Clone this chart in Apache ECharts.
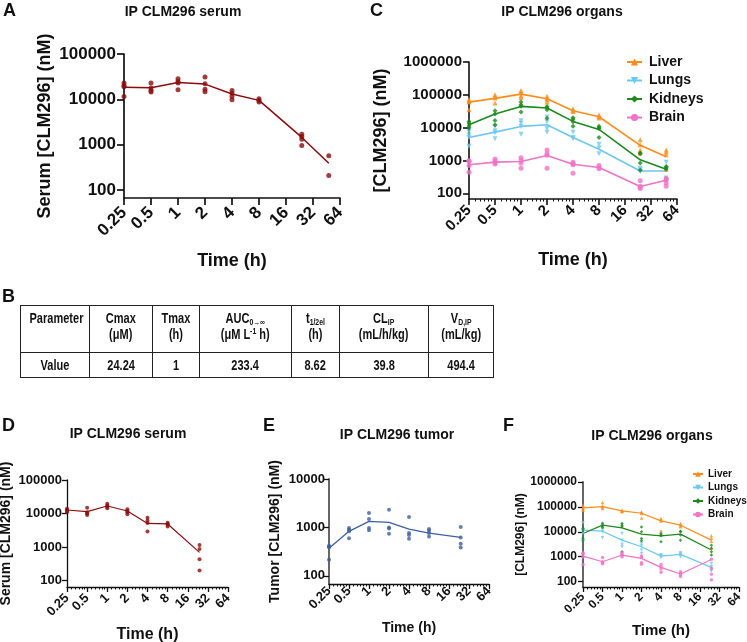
<!DOCTYPE html>
<html>
<head>
<meta charset="utf-8">
<title>IP CLM296 pharmacokinetics</title>
<script src="https://cdn.jsdelivr.net/npm/echarts@6/dist/echarts.min.js"></script>
<style>
  html, body { margin: 0; padding: 0; background: #fff; }
  #wrap { position: relative; width: 747px; height: 642px; }
  #chart { position: absolute; left: 0; top: 0; width: 747px; height: 642px; }
  table.pk {
    position: absolute; left: 20px; top: 305px; width: 473px;
    border-collapse: collapse; table-layout: fixed;
    font-family: 'Liberation Sans', Arial, sans-serif;
    font-weight: bold; font-size: 14.5px; color: #111;
  }
  table.pk td { border: 1.5px solid #222; text-align: center; padding: 0; }
  table.pk td > span { display: inline-block; transform: scaleX(0.76); transform-origin: center; white-space: nowrap; }
  table.pk tr.head td { height: 42px; vertical-align: top; padding-top: 4px; line-height: 16px; }
  table.pk tr.val td { height: 24px; vertical-align: middle; }
  table.pk sub { font-size: 9px; vertical-align: -2px; line-height: 0; }
  table.pk sup { font-size: 9px; vertical-align: 5px; line-height: 0; }
</style>
</head>
<body>
<div id="wrap">
  <div id="chart"></div>
  <table class="pk">
    <colgroup>
      <col style="width:69px"><col style="width:63px"><col style="width:47px"><col style="width:92px">
      <col style="width:48px"><col style="width:89px"><col style="width:65px">
    </colgroup>
    <tr class="head">
      <td><span>Parameter</span></td>
      <td><span>Cmax<br>(μM)</span></td>
      <td><span>Tmax<br>(h)</span></td>
      <td><span>AUC<sub>0→∞</sub><br>(μM L<sup>-1</sup> h)</span></td>
      <td><span>t<sub>1/2el</sub><br>(h)</span></td>
      <td><span>CL<sub>IP</sub><br>(mL/h/kg)</span></td>
      <td><span>V<sub>D,IP</sub><br>(mL/kg)</span></td>
    </tr>
    <tr class="val">
      <td><span>Value</span></td><td><span>24.24</span></td><td><span>1</span></td><td><span>233.4</span></td>
      <td><span>8.62</span></td><td><span>39.8</span></td><td><span>494.4</span></td>
    </tr>
  </table>
</div>
<script>
// sampling times (h)
const timesLong = [0.25, 0.5, 1, 2, 4, 8, 24, 48];
const timesShort = [0.25, 0.5, 1, 2, 4, 8, 24];
const organNames = ['Liver', 'Lungs', 'Kidneys', 'Brain'];

// A: serum, replicates per time point (nM) + mean line
const serumA = [
  [22900, 20300, 19000, 11600],
  [22900, 17700, 15700, 14500],
  [28500, 24900, 22900, 16300],
  [31000, 22100, 16800, 14700],
  [15700, 13700, 11600, 9800],
  [10300, 9500, 8700],
  [1700, 1510, 1320, 960],
  [575, 211]
];
const serumAMean = [18600, 18000, 23600, 21700, 13100, 9500, 1450, 390];

// C: organs
const liverC = [
  [72000, 66000, 60000, 35000],
  [100000, 88000, 80000, 56000],
  [136000, 119000, 96000, 83000],
  [90000, 80000, 71000, 60000],
  [37700, 33500, 31200],
  [24700, 22000, 19600],
  [4300, 3000, 2100, 1700],
  [2100, 1800, 1500, 540]
];
const liverCMean = [60000, 78000, 105000, 76000, 32700, 21500, 2900, 1300];
const lungsC = [
  [7600, 6000, 5000, 2700],
  [11000, 8000, 7000, 4600],
  [16200, 13700, 10900, 6300],
  [21000, 15000, 9500, 7300],
  [7300, 5000, 4600],
  [3100, 2400, 1600],
  [580, 520, 460],
  [880, 560, 290, 250]
];
const lungsCMean = [5000, 7300, 10900, 12200, 5000, 2200, 480, 480];
const kidneysC = [
  [15500, 13500, 11500, 10000],
  [33000, 26000, 16500, 12000],
  [60000, 50000, 45000, 30000],
  [44000, 41000, 35000, 19500],
  [20000, 18000, 15000, 11000],
  [11000, 10000, 9500, 5000],
  [1700, 1600, 830, 500],
  [660, 600, 540, 260]
];
const kidneysCMean = [12200, 26000, 44400, 39500, 15500, 8800, 1050, 540];
const brainC = [
  [980, 950, 700, 440],
  [1100, 950, 850, 780],
  [1200, 1000, 820, 580],
  [2100, 1600, 1450, 580],
  [880, 800, 740, 410],
  [700, 625, 556],
  [240, 165, 150, 140],
  [280, 256, 205, 165]
];
const brainCMean = [740, 890, 930, 1420, 770, 610, 160, 250];

// D: serum (second study)
const serumD = [
  [14000, 13000, 12000, 11000],
  [15000, 11000, 10000, 9000],
  [19500, 17500, 16000, 14500],
  [13500, 12000, 11000, 9500],
  [7500, 6200, 5200, 2900],
  [5300, 4900, 4700, 4100],
  [1160, 880, 435, 200]
];
const serumDMean = [12800, 11400, 16800, 11900, 5100, 4900, 700];

// E: tumor
const tumorE = [
  [420, 400, 390, 215],
  [970, 900, 830, 600],
  [1980, 1490, 970, 870],
  [2320, 1000, 950, 740],
  [1640, 770, 700, 585],
  [925, 866, 764, 651],
  [1016, 621, 459, 386]
];
const tumorEMean = [373, 830, 1330, 1270, 925, 764, 621];

// F: organs (second study)
const liverF = [
  [117000, 95000, 85000, 74000],
  [150000, 110000, 100000, 86000],
  [73000, 70000, 66000, 65000],
  [63000, 60000, 54000, 36000],
  [34000, 30000, 27000, 11000],
  [21500, 19500, 17500, 16000],
  [6900, 5500, 4200, 2200]
];
const liverFMean = [91000, 103000, 69000, 55800, 27500, 18500, 4640];
const lungsF = [
  [23000, 12000, 8600, 4400],
  [16000, 12400, 10000, 5750],
  [8600, 4600, 3200, 2500],
  [3400, 2700, 1850, 1360],
  [1200, 1100, 1000, 950],
  [1450, 1300, 1200, 1000],
  [541, 398, 321, 267]
];
const lungsFMean = [11700, 10600, 4640, 2510, 1060, 1240, 374];
const kidneysF = [
  [14000, 12000, 5400, 4400],
  [22000, 19000, 17000, 15000],
  [21500, 18500, 16000, 1600],
  [15800, 10000, 5400, 4400],
  [8600, 7500, 7000, 4000],
  [10600, 10000, 7400, 4600],
  [2900, 2200, 1600, 1170]
];
const kidneysFMean = [8580, 18500, 14450, 8070, 6900, 8070, 1850];
const brainF = [
  [1450, 1300, 1000, 490],
  [940, 630, 580, 520],
  [1450, 1250, 1100, 1000],
  [1060, 950, 575, 500],
  [490, 400, 320, 240],
  [250, 215, 185, 160],
  [800, 340, 200, 120]
];
const brainFMean = [1060, 631, 1170, 857, 374, 203, 780];

const FONT = "'Liberation Sans', Arial, sans-serif";
const INK = '#111';
const COLORS = {
  serum: '#8c0c0c',
  tumor: '#3d5fa6',
  Liver: '#ff8c1a',
  Lungs: '#6cc8f2',
  Kidneys: '#1c8a1c',
  Brain: '#f272c8'
};
const SYMBOLS = {
  Liver: ['triangle', 0],
  Lungs: ['triangle', 180],
  Kidneys: ['diamond', 0],
  Brain: ['circle', 0]
};

function toPoints(times, reps) {
  return times.flatMap((t, i) => reps[i].map(v => [t, v]));
}
function toLine(times, means) {
  return times.map((t, i) => [t, means[i]]);
}

// panel geometry / text sizes
const panels = [
  { grid: { left: 124, top: 54, width: 216, height: 144 }, ymin: 67, ymax: 100000,
    yname: 'Serum [CLM296] (nM)', ynameGap: 70, xnameGap: 54, nameSize: 18, labelSize: 17,
    ymargin: 8, xmargin: 12, tick: 7, lw: 1.7, minor: false, axisColor: INK },
  { grid: { left: 469, top: 62, width: 208, height: 137 }, ymin: 67, ymax: 1000000,
    yname: '[CLM296] (nM)', ynameGap: 79, xnameGap: 52, nameSize: 18, labelSize: 15,
    ymargin: 7, xmargin: 9, tick: 6, lw: 1.6, minor: true, axisColor: INK },
  { grid: { left: 67, top: 480, width: 161, height: 107 }, ymin: 65, ymax: 100000,
    yname: 'Serum [CLM296] (nM)', ynameGap: 54, xnameGap: 40, nameSize: 14, xnameSize: 16, labelSize: 13,
    ymargin: 5, xmargin: 9, tick: 5, lw: 1.3, minor: true, axisColor: INK },
  { grid: { left: 329, top: 479, width: 160, height: 105 }, ymin: 68, ymax: 10000,
    yname: 'Tumor [CLM296] (nM)', ynameGap: 47, xnameGap: 37, nameSize: 14, xnameSize: 14, labelSize: 13,
    ymargin: 4, xmargin: 5, tick: 5, lw: 1.3, minor: true, axisColor: '#666' },
  { grid: { left: 583, top: 482, width: 156, height: 105 }, ymin: 61, ymax: 1000000,
    yname: '[CLM296] (nM)', ynameGap: 51, xnameGap: 36, nameSize: 12, xnameSize: 15, labelSize: 12,
    ymargin: 6, xmargin: 8, tick: 5, lw: 1.3, minor: true, axisColor: '#666' }
];

const grids = panels.map(p => Object.assign({ outerBoundsMode: 'none' }, p.grid));

const xAxes = panels.map((p, i) => ({
  type: 'log', logBase: 2, gridIndex: i, min: 0.25, max: 64,
  name: 'Time (h)', nameLocation: 'middle', nameGap: p.xnameGap,
  nameTextStyle: { fontFamily: FONT, fontWeight: 'bold', fontSize: p.xnameSize || p.nameSize, color: INK },
  axisLine: { show: true, onZero: false, lineStyle: { color: INK, width: p.lw } },
  axisTick: { show: true, length: p.tick, lineStyle: { color: INK, width: p.lw } },
  minorTick: { show: p.minor, splitNumber: 6, length: 2.5, lineStyle: { color: INK, width: 1 } },
  axisLabel: {
    rotate: 45, margin: p.xmargin, showMinLabel: true, showMaxLabel: true,
    fontFamily: FONT, fontWeight: 'bold', fontSize: p.labelSize, color: INK,
    formatter: v => String(v)
  },
  splitLine: { show: false }
}));

const yAxes = panels.map((p, i) => ({
  type: 'log', logBase: 10, gridIndex: i, min: p.ymin, max: p.ymax,
  name: p.yname, nameLocation: 'middle', nameGap: p.ynameGap,
  nameTextStyle: { fontFamily: FONT, fontWeight: 'bold', fontSize: p.nameSize, color: INK },
  axisLine: { show: true, lineStyle: { color: p.axisColor, width: p.lw + (p.axisColor === INK ? 0 : 0.7) } },
  axisTick: { show: true, length: p.tick, lineStyle: { color: INK, width: p.lw } },
  axisLabel: {
    margin: p.ymargin, showMinLabel: false,
    fontFamily: FONT, fontWeight: 'bold', fontSize: p.labelSize, color: INK,
    formatter: v => String(v)
  },
  splitLine: { show: false }
}));

const series = [];
function addGroup(name, gi, times, reps, means, color, symbol, rotate, size, lw) {
  series.push({
    name, type: 'line', xAxisIndex: gi, yAxisIndex: gi,
    data: toLine(times, means), symbol, symbolRotate: rotate, symbolSize: size + 2,
    showSymbol: false, lineStyle: { color, width: lw }, itemStyle: { color },
    silent: true, z: 2
  });
  series.push({
    name, type: 'scatter', xAxisIndex: gi, yAxisIndex: gi,
    data: toPoints(times, reps), symbol, symbolRotate: rotate, symbolSize: size,
    itemStyle: { color }, silent: true, z: 3
  });
}

addGroup('Serum A', 0, timesLong, serumA, serumAMean, COLORS.serum, 'circle', 0, 5, 1.5);
const organC = { Liver: [liverC, liverCMean], Lungs: [lungsC, lungsCMean], Kidneys: [kidneysC, kidneysCMean], Brain: [brainC, brainCMean] };
organNames.forEach(n => {
  addGroup(n, 1, timesLong, organC[n][0], organC[n][1], COLORS[n], SYMBOLS[n][0], SYMBOLS[n][1], 5, 1.6);
});
addGroup('Serum D', 2, timesShort, serumD, serumDMean, COLORS.serum, 'circle', 0, 4, 1.2);
addGroup('Tumor E', 3, timesShort, tumorE, tumorEMean, COLORS.tumor, 'circle', 0, 4, 1.3);
const organF = { Liver: [liverF, liverFMean], Lungs: [lungsF, lungsFMean], Kidneys: [kidneysF, kidneysFMean], Brain: [brainF, brainFMean] };
organNames.forEach(n => {
  addGroup(n, 4, timesShort, organF[n][0], organF[n][1], COLORS[n], SYMBOLS[n][0], SYMBOLS[n][1], 3.5, 1.2);
});

function label(text, x, y, size, align) {
  return {
    type: 'text', x, y, silent: true,
    style: { text, fill: INK, fontFamily: FONT, fontWeight: 'bold', fontSize: size,
             align: align || 'left', verticalAlign: 'middle' }
  };
}

const chart = echarts.init(document.getElementById('chart'), null, { renderer: 'canvas' });
chart.setOption({
  animation: false,
  backgroundColor: '#fff',
  grid: grids,
  xAxis: xAxes,
  yAxis: yAxes,
  legend: [
    { data: organNames, orient: 'vertical', left: 626, top: 55, padding: 0, itemGap: 4.5,
      itemWidth: 15, itemHeight: 9, selectedMode: false,
      textStyle: { fontFamily: FONT, fontWeight: 'bold', fontSize: 14, color: INK, padding: [0, 0, 0, 2] } },
    { data: organNames, orient: 'vertical', left: 692, top: 469, padding: 0, itemGap: 3.5,
      itemWidth: 10, itemHeight: 7, selectedMode: false,
      textStyle: { fontFamily: FONT, fontWeight: 'bold', fontSize: 10, color: INK, padding: 0 } }
  ],
  graphic: [
    label('A', 3, 11, 18), label('C', 370, 11, 18), label('B', 2, 297, 18),
    label('D', 2, 426, 18), label('E', 263, 426, 18), label('F', 503, 426, 18),
    label('IP CLM296 serum', 183, 12, 14, 'center'),
    label('IP CLM296 organs', 562, 12, 14, 'center'),
    label('IP CLM296 serum', 128, 434, 14, 'center'),
    label('IP CLM296 tumor', 397, 435, 14, 'center'),
    label('IP CLM296 organs', 652, 436, 14, 'center')
  ],
  series
});
</script>
</body>
</html>
